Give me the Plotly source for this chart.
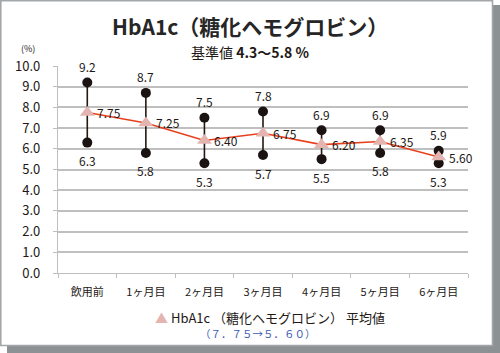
import plotly.graph_objects as go

categories = ["飲用前", "1ヶ月目", "2ヶ月目", "3ヶ月目", "4ヶ月目", "5ヶ月目", "6ヶ月目"]
max_vals = [9.2, 8.7, 7.5, 7.8, 6.9, 6.9, 5.9]
min_vals = [6.3, 5.8, 5.3, 5.7, 5.5, 5.8, 5.3]
mean_vals = [7.75, 7.25, 6.40, 6.75, 6.20, 6.35, 5.60]
mean_labels = ["7.75", "7.25", "6.40", "6.75", "6.20", "6.35", "5.60"]
y_ticks = [0, 1, 2, 3, 4, 5, 6, 7, 8, 9, 10]

W, H = 500, 353
ML, MR, MT, MB = 58, 32, 66, 80
PW, PH = W - ML - MR, H - MT - MB


def px(x):
    return (x - ML) / PW


def py(y):
    return (H - MB - y) / PH


FONT = "Noto Sans CJK JP"
TXT = "#231815"
fig = go.Figure()

# range bars (min-max)
for c, lo, hi in zip(categories, min_vals, max_vals):
    fig.add_trace(go.Scatter(x=[c, c], y=[lo, hi], mode="lines",
                             line=dict(color=TXT, width=1.6),
                             showlegend=False, hoverinfo="skip", cliponaxis=False))

fig.add_trace(go.Scatter(x=categories, y=max_vals, mode="markers",
                         marker=dict(color="#1a1311", size=10),
                         showlegend=False, cliponaxis=False))
fig.add_trace(go.Scatter(x=categories, y=min_vals, mode="markers",
                         marker=dict(color="#1a1311", size=10),
                         showlegend=False, cliponaxis=False))

fig.add_trace(go.Scatter(x=categories, y=mean_vals, mode="lines",
                         line=dict(color="#e8401c", width=1.6),
                         showlegend=False, hoverinfo="skip", cliponaxis=False))
fig.add_trace(go.Scatter(x=categories, y=mean_vals, mode="markers",
                         name="HbA1c（糖化ヘモグロビン）平均値",
                         marker=dict(symbol="triangle-up", color="#e3b4b0", size=13),
                         showlegend=False, cliponaxis=False))

shapes = [
    dict(type="rect", xref="paper", yref="paper", x0=px(493), x1=px(500), y0=py(5), y1=py(353),
         fillcolor="#8c9194", line=dict(width=0), layer="below"),
    dict(type="rect", xref="paper", yref="paper", x0=px(7), x1=px(500), y0=py(346), y1=py(353),
         fillcolor="#8c9194", line=dict(width=0), layer="below"),
    dict(type="rect", xref="paper", yref="paper", x0=px(0.8), x1=px(492.5), y0=py(0.8), y1=py(345.5),
         fillcolor="white", line=dict(color="#a3a7a9", width=1.6), layer="below"),
]

annotations = []
for c, v in zip(categories, max_vals):
    annotations.append(dict(x=c, y=v, text=f"{v:.1f}", showarrow=False, yshift=16,
                            font=dict(size=12, color=TXT, family=FONT)))
for c, v in zip(categories, min_vals):
    annotations.append(dict(x=c, y=v, text=f"{v:.1f}", showarrow=False, yshift=-18,
                            font=dict(size=12, color=TXT, family=FONT)))
for c, v, t in zip(categories, mean_vals, mean_labels):
    annotations.append(dict(x=c, y=v, text=t, showarrow=False, xshift=8, xanchor="left",
                            font=dict(size=12, color=TXT, family=FONT)))

annotations += [
    dict(text="<b>HbA1c（糖化ヘモグロビン）</b>", x=px(250), y=py(26), xref="paper", yref="paper",
         showarrow=False, font=dict(size=21, color="#262626", family=FONT), xanchor="center", yanchor="middle"),
    dict(text="基準値 <b>4.3～5.8 %</b>", x=px(250), y=py(52), xref="paper", yref="paper",
         showarrow=False, font=dict(size=14, color=TXT, family=FONT), xanchor="center", yanchor="middle"),
    dict(text="(%)", x=px(28), y=py(48), xref="paper", yref="paper",
         showarrow=False, font=dict(size=9, color=TXT, family=FONT), xanchor="center", yanchor="middle"),
    dict(text="<span style='color:#e3b4b0'>▲</span> HbA1c （糖化ヘモグロビン） 平均値",
         x=px(153), y=py(317), xref="paper", yref="paper",
         showarrow=False, font=dict(size=13, color=TXT, family=FONT), xanchor="left", yanchor="middle"),
    dict(text="（７．７５→５．６０）", x=px(258), y=py(333), xref="paper", yref="paper",
         showarrow=False, font=dict(size=10.5, color="#3b5bb0", family=FONT), xanchor="center", yanchor="middle"),
]

fig.update_layout(
    width=W, height=H,
    margin=dict(l=ML, r=MR, t=MT, b=MB),
    paper_bgcolor="white", plot_bgcolor="rgba(0,0,0,0)",
    font=dict(family=FONT, color=TXT),
    shapes=shapes, annotations=annotations,
    showlegend=False,
    xaxis=dict(type="category", categoryorder="array", categoryarray=categories,
               showgrid=False, showline=True, linecolor="#bfbfbf", linewidth=1.2,
               ticks="outside", tickson="boundaries", ticklen=4, tickcolor="#bfbfbf",
               tickfont=dict(size=11, color=TXT, family=FONT), ticklabelstandoff=9,
               range=[-0.5, 6.5], fixedrange=True),
    yaxis=dict(range=[0, 10], tickvals=y_ticks, ticktext=[f"{v:.1f}" for v in y_ticks],
               showgrid=True, gridcolor="#bfbfbf", gridwidth=1.6,
               showline=True, linecolor="#bfbfbf", linewidth=1.2,
               ticks="outside", ticklen=4, tickcolor="#bfbfbf",
               tickfont=dict(size=13, color=TXT, family=FONT), ticklabelstandoff=10,
               zeroline=False, fixedrange=True),
)

fig.write_html("out.html")
